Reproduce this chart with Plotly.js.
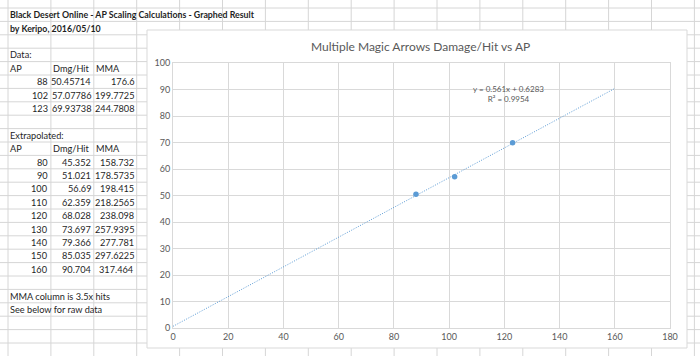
<!DOCTYPE html>
<html>
<head>
<meta charset="utf-8">
<script src="https://cdn.plot.ly/plotly-3.0.1.min.js"></script>
<style>
html,body{margin:0;padding:0;background:#fff;}
#chart{width:700px;height:356px;}
</style>
</head>
<body>
<div id="chart"></div>
<script>
// ---- data ----
const dataAP  = [88, 102, 123];
const dataDmg = [50.45714, 57.07786, 69.93738];
const dataMMA = [176.6, 199.7725, 244.7808];

const extAP  = [80, 90, 100, 110, 120, 130, 140, 150, 160];
const extDmg = [45.352, 51.021, 56.69, 62.359, 68.028, 73.697, 79.366, 85.035, 90.704];
const extMMA = [158.732, 178.5735, 198.415, 218.2565, 238.098, 257.9395, 277.781, 297.6225, 317.464];

const headers = ["AP", "Dmg/Hit", "MMA"];
const sheetTitle = "Black Desert Online - AP Scaling Calculations - Graphed Result";
const sheetAuthor = "by Keripo, 2016/05/10";
const notes = ["MMA column is 3.5x hits", "See below for raw data"];
const chartTitle = "Multiple Magic Arrows Damage/Hit vs AP";
const trendRange = [0, 160];   // trendline drawn from x=0, forecast to 160
const xTicks = [0, 20, 40, 60, 80, 100, 120, 140, 160, 180];
const yTicks = [0, 10, 20, 30, 40, 50, 60, 70, 80, 90, 100];

// ---- linear regression (Excel trendline) ----
const n = dataAP.length;
const mx = dataAP.reduce((a,b)=>a+b,0)/n;
const my = dataDmg.reduce((a,b)=>a+b,0)/n;
let sxx=0, sxy=0, syy=0;
for (let i=0;i<n;i++){ const dx=dataAP[i]-mx, dy=dataDmg[i]-my; sxx+=dx*dx; sxy+=dx*dy; syy+=dy*dy; }
const slope = sxy/sxx, intercept = my - slope*mx, r2 = sxy*sxy/(sxx*syy);
const fmt = v => String(Number(v.toPrecision(4)));
const trendY = trendRange.map(x => slope*x + intercept);

// ---- page geometry ----
const PW = 700, PH = 356;
const M = {l:173, r:30, t:63, b:28};
const AW = PW - M.l - M.r, AH = PH - M.t - M.b;
const X = p => (p - M.l)/AW;
const Y = p => (PH - M.b - p)/AH;

const COL0 = 8, COLW = 42.9, ROW0 = 8, ROWH = 13.4;
const gridColor = '#d6d6d6';
const shapes = [];
for (let x = COL0; x <= PW; x += COLW) {
  shapes.push({type:'line', xref:'paper', yref:'paper', layer:'below',
    x0:X(x), x1:X(x), y0:Y(0), y1:Y(PH), line:{color:gridColor, width:1}});
}
for (let y = ROW0; y <= PH; y += ROWH) {
  shapes.push({type:'line', xref:'paper', yref:'paper', layer:'below',
    x0:X(0), x1:X(PW), y0:Y(y), y1:Y(y), line:{color:gridColor, width:1}});
}
// chart area box
shapes.push({type:'rect', xref:'paper', yref:'paper', layer:'below',
  x0:X(147), x1:X(687), y0:Y(30), y1:Y(348), fillcolor:'#ffffff', line:{color:'#d9d9d9', width:1}});

// ---- sheet text ----
const textFont = {family:'Lato, "Open Sans", sans-serif', size:9.2, color:'#1f1f1f'};
const numFont  = {family:'Lato, "Open Sans", sans-serif', size:9.2, color:'#1f1f1f'};
const boldFont = {family:'Lato, "Open Sans", sans-serif', size:8.8, color:'#1f1f1f'};
const ann = [];
const rowC = r => ROW0 + ROWH*(r-1) + ROWH/2;
const colL = c => COL0 + COLW*c + 1;
const colR = c => COL0 + COLW*(c+1) - 1.5;
function cellText(txt, r, c, align, kind) {
  const font = kind==='bold' ? boldFont : (kind==='num' ? numFont : textFont);
  ann.push({xref:'paper', yref:'paper', x: X(align==='right'?colR(c):colL(c)), y: Y(rowC(r)),
    xanchor: align, yanchor:'middle', showarrow:false, borderpad:0,
    text: kind==='bold' ? '<b>'+txt+'</b>' : txt, font: font});
}
cellText(sheetTitle, 1, 0, 'left', 'bold');
cellText(sheetAuthor, 2, 0, 'left', 'bold');
cellText('Data:', 4, 0, 'left');
headers.forEach((h,i)=>cellText(h, 5, i, 'left'));
dataAP.forEach((v,i)=>{
  cellText(String(v), 6+i, 0, 'right', 'num');
  cellText(String(dataDmg[i]), 6+i, 1, 'right', 'num');
  cellText(String(dataMMA[i]), 6+i, 2, 'right', 'num');
});
cellText('Extrapolated:', 10, 0, 'left');
headers.forEach((h,i)=>cellText(h, 11, i, 'left'));
extAP.forEach((v,i)=>{
  cellText(String(v), 12+i, 0, 'right', 'num');
  cellText(String(extDmg[i]), 12+i, 1, 'right', 'num');
  cellText(String(extMMA[i]), 12+i, 2, 'right', 'num');
});
notes.forEach((t,i)=>cellText(t, 22+i, 0, 'left'));

// chart title
ann.push({xref:'paper', yref:'paper', x:X(420), y:Y(46), xanchor:'center', yanchor:'middle',
  showarrow:false, text: chartTitle, font:{family:'Lato, sans-serif', size:12, color:'#595959'}});
// trendline label
ann.push({xref:'x', yref:'y', x:121.5, y:88.2, xanchor:'center', yanchor:'middle', showarrow:false,
  text: 'y = ' + fmt(slope) + 'x + ' + fmt(intercept) + '<br>R² = ' + fmt(r2),
  font:{family:'Lato, sans-serif', size:8, color:'#595959'}});

const traces = [
  {x: trendRange, y: trendY, mode:'lines', type:'scatter', hoverinfo:'skip',
   line:{color:'#5b9bd5', width:1, dash:'1px,1.5px'}},
  {x: dataAP, y: dataDmg, mode:'markers', type:'scatter',
   marker:{color:'#5b9bd5', size:5.5}}
];

const axisFont = {family:'Lato, sans-serif', size:9, color:'#595959'};
const layout = {
  width: PW, height: PH,
  margin: M,
  paper_bgcolor:'#ffffff', plot_bgcolor:'rgba(0,0,0,0)',
  showlegend:false,
  xaxis:{range:[0,180], tickvals:xTicks, showgrid:true, gridcolor:'#d9d9d9', gridwidth:1,
    zeroline:false, showline:true, linecolor:'#d9d9d9', mirror:true, ticks:'', tickfont:axisFont, fixedrange:true},
  yaxis:{range:[0,100], tickvals:yTicks, showgrid:true, gridcolor:'#d9d9d9', gridwidth:1,
    zeroline:false, showline:true, linecolor:'#d9d9d9', mirror:true, ticks:'', tickfont:axisFont, fixedrange:true},
  shapes: shapes,
  annotations: ann
};
Plotly.newPlot('chart', traces, layout, {displayModeBar:false, staticPlot:true});
</script>
</body>
</html>
